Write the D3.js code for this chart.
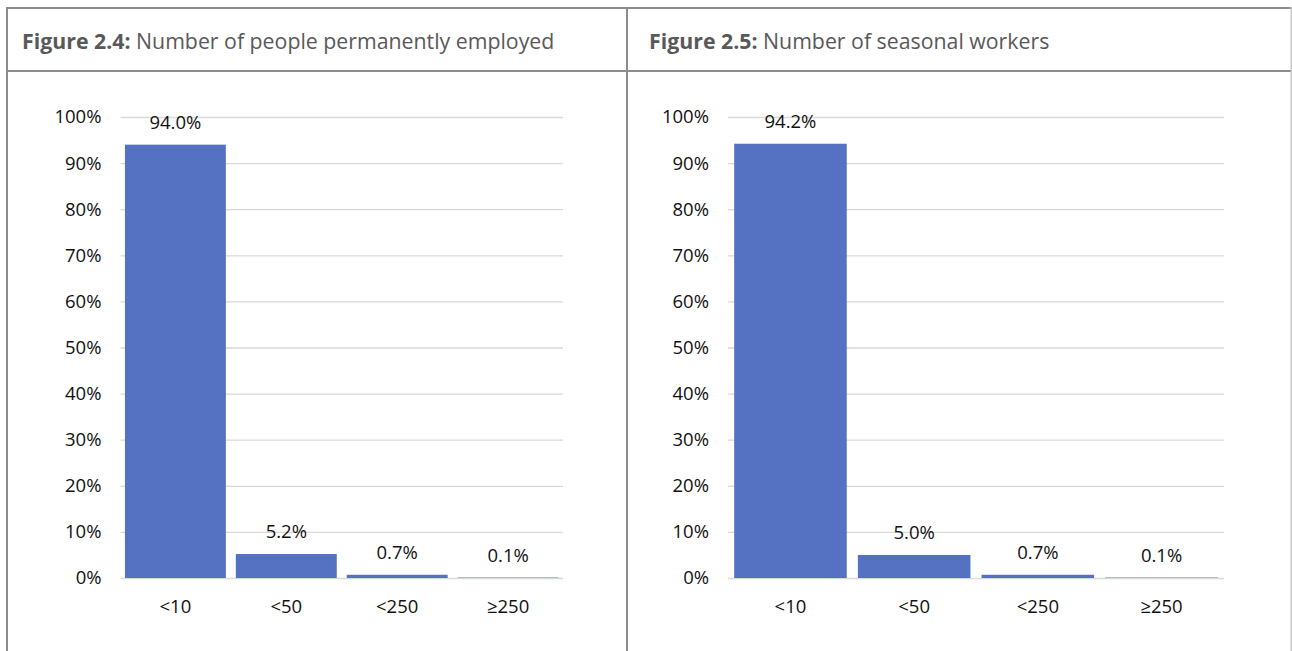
<!DOCTYPE html>
<html>
<head>
<meta charset="utf-8">
<script src="https://cdn.jsdelivr.net/npm/d3@7"></script>
<style>
  html, body { margin: 0; padding: 0; background: #ffffff; }
  svg { display: block; }
</style>
</head>
<body>
<svg id="chart" width="1292" height="651"></svg>
<script>
// Firm-size classes (number of employees)
const categories = ["<10", "<50", "<250", "≥250"];

// Share of holdings per class, permanently employed staff (%)
const permanentShares = [94.0, 5.2, 0.7, 0.1];

// Share of holdings per class, seasonal workers (%)
const seasonalShares = [94.2, 5.0, 0.7, 0.1];

// Percentage axis ticks
const tickValues = [0, 10, 20, 30, 40, 50, 60, 70, 80, 90, 100];

// Figure captions: bold label + description
const figureLabels = ["Figure 2.4:", "Figure 2.5:"];
const figureTitles = ["Number of people permanently employed", "Number of seasonal workers"];

const svg = d3.select("#chart");
const FONT = "'Open Sans', 'Noto Sans', sans-serif";
const BAR = "#5571c1";
const GRID = "#d9d9d9";
const FRAME = "#8c8c8c";
const INK = "#111111";

// Table frame holding the two figures
const frame = svg.append("g").attr("fill", "none").attr("stroke", FRAME).attr("stroke-width", 2);
frame.append("line").attr("x1", 6).attr("x2", 1292).attr("y1", 8).attr("y2", 8);
frame.append("line").attr("x1", 6).attr("x2", 1292).attr("y1", 71).attr("y2", 71);
frame.append("line").attr("x1", 7).attr("x2", 7).attr("y1", 7).attr("y2", 651);
frame.append("line").attr("x1", 627).attr("x2", 627).attr("y1", 7).attr("y2", 651);
frame.append("line").attr("x1", 1291.5).attr("x2", 1291.5).attr("y1", 7).attr("y2", 651)
  .attr("stroke", "#c8c8c8");

// Panel layout: plot range and caption position for each figure
const panels = [
  { data: permanentShares, x0: 120.5, x1: 563, captionX: 22, outer: 0.04 },
  { data: seasonalShares,  x0: 728,   x1: 1224, captionX: 649, outer: 0.05 }
];

panels.forEach((p, i) => {
  const g = svg.append("g");

  // Caption
  const cap = g.append("text")
    .attr("x", p.captionX).attr("y", 48.5)
    .attr("font-family", FONT).attr("font-size", 21.3)
    .attr("fill", "#595959");
  cap.append("tspan").attr("font-weight", "bold").text(figureLabels[i]);
  cap.append("tspan").text(" " + figureTitles[i]);

  const y = d3.scaleLinear().domain([0, 100]).range([578, 117]);
  const x = d3.scaleBand().domain(categories).range([p.x0, p.x1])
    .paddingInner(0.09).paddingOuter(p.outer);

  // Horizontal gridlines with percentage labels
  const yAxis = d3.axisLeft(y).tickValues(tickValues)
    .tickFormat(d => d + "%")
    .tickSize(-(p.x1 - p.x0)).tickPadding(19);
  const ya = g.append("g").attr("transform", `translate(${p.x0},0)`).call(yAxis);
  ya.select(".domain").remove();
  ya.selectAll(".tick line").attr("stroke", GRID).attr("stroke-width", 1.3);
  ya.selectAll(".tick text")
    .attr("font-family", FONT).attr("font-size", 18.5).attr("fill", INK);

  // Bars
  g.selectAll("rect.bar").data(p.data).join("rect")
    .attr("class", "bar")
    .attr("x", (d, j) => x(categories[j]))
    .attr("width", x.bandwidth())
    .attr("y", d => y(d))
    .attr("height", d => y(0) - y(d))
    .attr("fill", BAR);

  // Value labels above bars
  g.selectAll("text.val").data(p.data).join("text")
    .attr("class", "val")
    .attr("x", (d, j) => x(categories[j]) + x.bandwidth() / 2)
    .attr("y", d => y(d) - 16)
    .attr("text-anchor", "middle")
    .attr("font-family", FONT).attr("font-size", 18.5).attr("fill", INK)
    .text(d => d.toFixed(1) + "%");

  // Category axis
  const xAxis = d3.axisBottom(x).tickSize(0).tickPadding(22);
  const xa = g.append("g").attr("transform", `translate(0,${y(0)})`).call(xAxis);
  xa.select(".domain").remove();
  xa.selectAll(".tick text")
    .attr("font-family", FONT).attr("font-size", 18.5).attr("fill", INK);
});
</script>
</body>
</html>
